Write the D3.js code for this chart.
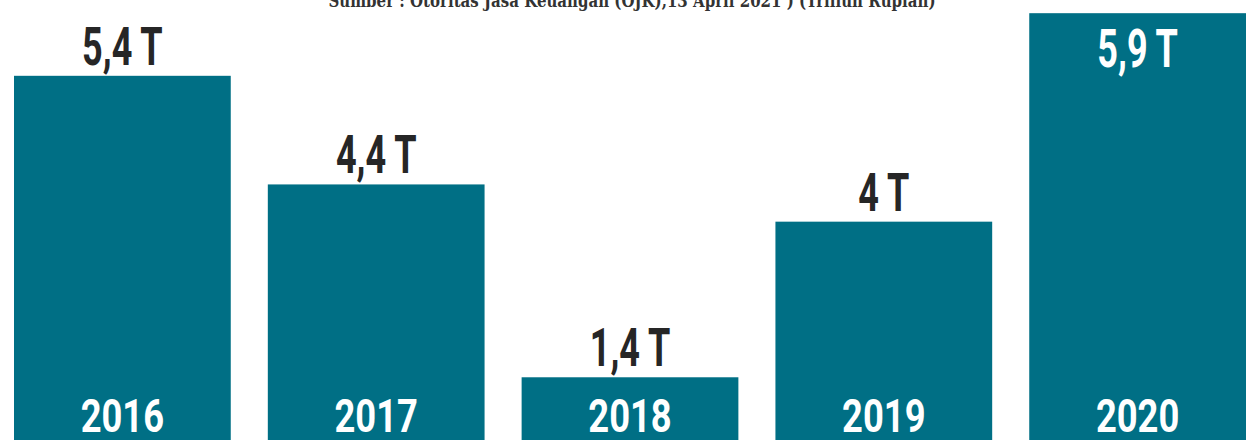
<!DOCTYPE html>
<html>
<head>
<meta charset="utf-8">
<script src="https://cdn.jsdelivr.net/npm/d3@7"></script>
<style>
  body { margin: 0; background: #fff; }
  svg { display: block; }
</style>
</head>
<body>
<div id="chart-area"></div>
<script>
// data
var years = ["2016", "2017", "2018", "2019", "2020"];
var values = [5.4, 4.4, 1.4, 4, 5.9];
var valueLabels = ["5,4 T", "4,4 T", "1,4 T", "4 T", "5,9 T"];
var title = "Sumber : Otoritas Jasa Keuangan (OJK),13 April 2021 ) (Triliun Rupiah)";

var width = 1259, height = 440;
var barColor = "#006f85";

var svg = d3.select("#chart-area").append("svg")
    .attr("width", width)
    .attr("height", height);

// Scales
var x = d3.scaleBand()
    .domain(years)
    .range([14, 1246])
    .paddingInner(0.146)
    .paddingOuter(0);

// the infographic's bar heights grow faster than linear, a square scale fits them
var y = d3.scalePow()
    .exponent(2)
    .domain([0, 6])
    .range([399, 0]);

// title (cut at the top edge)
svg.append("text")
    .attr("x", 632)
    .attr("y", 7)
    .attr("text-anchor", "middle")
    .attr("textLength", 607)
    .attr("lengthAdjust", "spacingAndGlyphs")
    .style("font-family", "'DejaVu Serif', serif")
    .style("font-weight", "bold")
    .style("font-size", "18px")
    .style("fill", "#333")
    .text(title);

var rows = years.map(function(d, i) {
    return {year: d, value: values[i], label: valueLabels[i]};
});

// bars run off the bottom edge
svg.selectAll(".bar")
    .data(rows)
    .enter().append("rect")
    .attr("class", "bar")
    .attr("x", function(d) { return x(d.year); })
    .attr("y", function(d) { return y(d.value); })
    .attr("width", x.bandwidth())
    .attr("height", function(d) { return height - y(d.value); })
    .style("fill", barColor);

// value labels: above the bar, or inside if there is no room
var capH = 38;
function inside(d) { return y(d.value) - 11 - capH < 0; }

var vl = svg.selectAll(".value-label")
    .data(rows)
    .enter().append("text")
    .attr("class", "value-label")
    .attr("x", function(d) { return x(d.year) + x.bandwidth() / 2; })
    .attr("y", function(d) {
        var top = y(d.value);
        return inside(d) ? top + 16 + capH : top - 11;
    })
    .attr("text-anchor", "middle")
    .style("font-family", "Roboto, sans-serif")
    .style("font-weight", "bold")
    .style("font-size", "53px")
    .style("fill", function(d) { return inside(d) ? "#fff" : "#262626"; })
    .text(function(d) { return d.label; });

vl.each(function() {
    var len = this.getComputedTextLength();
    d3.select(this).attr("textLength", len * 0.68).attr("lengthAdjust", "spacingAndGlyphs");
});

// year labels inside the bars
var yl = svg.selectAll(".year-label")
    .data(rows)
    .enter().append("text")
    .attr("class", "year-label")
    .attr("x", function(d) { return x(d.year) + x.bandwidth() / 2; })
    .attr("y", 432)
    .attr("text-anchor", "middle")
    .style("font-family", "Roboto, sans-serif")
    .style("font-weight", "bold")
    .style("font-size", "46px")
    .style("fill", "#fff")
    .text(function(d) { return d.year; });

yl.each(function() {
    var len = this.getComputedTextLength();
    d3.select(this).attr("textLength", len * 0.79).attr("lengthAdjust", "spacingAndGlyphs");
});
</script>
</body>
</html>
